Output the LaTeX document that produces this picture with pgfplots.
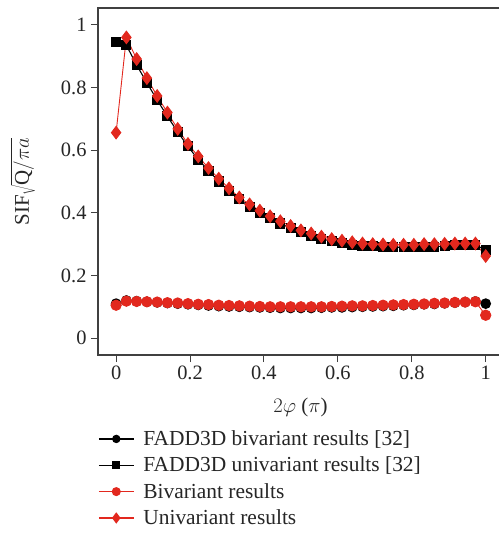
\documentclass[border=0pt]{standalone}
\usepackage{pgfplots}
\pgfplotsset{compat=1.18}
\usepackage{pgfplotstable}
\usepackage{fontspec}
\setmainfont{Liberation Serif}
\definecolor{myred}{RGB}{226,40,30}
\definecolor{axgray}{RGB}{64,64,64}

\pgfplotstableread{
x fb fu rb ru
0.00000 0.110 0.945 0.105 0.656
0.02778 0.120 0.935 0.118 0.960
0.05556 0.118 0.872 0.117 0.891
0.08333 0.116 0.815 0.116 0.830
0.11111 0.114 0.760 0.115 0.773
0.13889 0.112 0.708 0.113 0.720
0.16667 0.110 0.658 0.112 0.668
0.19444 0.108 0.612 0.110 0.620
0.22222 0.106 0.570 0.108 0.580
0.25000 0.104 0.535 0.107 0.543
0.27778 0.102 0.500 0.105 0.509
0.30556 0.101 0.470 0.104 0.478
0.33333 0.100 0.443 0.103 0.449
0.36111 0.099 0.420 0.102 0.427
0.38889 0.098 0.400 0.101 0.407
0.41667 0.097 0.382 0.100 0.389
0.44444 0.096 0.366 0.100 0.373
0.47222 0.096 0.351 0.100 0.358
0.50000 0.096 0.338 0.100 0.344
0.52778 0.096 0.327 0.100 0.334
0.55556 0.097 0.317 0.100 0.324
0.58333 0.098 0.309 0.101 0.316
0.61111 0.098 0.303 0.102 0.311
0.63889 0.099 0.298 0.103 0.306
0.66667 0.100 0.295 0.103 0.302
0.69444 0.101 0.293 0.104 0.300
0.72222 0.102 0.291 0.105 0.299
0.75000 0.103 0.290 0.106 0.298
0.77778 0.105 0.290 0.107 0.298
0.80556 0.106 0.290 0.108 0.298
0.83333 0.108 0.291 0.109 0.300
0.86111 0.109 0.292 0.111 0.300
0.88889 0.111 0.294 0.112 0.301
0.91667 0.113 0.296 0.114 0.302
0.94444 0.115 0.297 0.115 0.302
0.97222 0.117 0.298 0.116 0.302
1.00000 0.110 0.281 0.073 0.262
}\datatable

\begin{document}
\begin{tikzpicture}
\begin{axis}[
  scale only axis, width=401bp, height=347bp,
  xmin=-0.049, xmax=1.036, ymin=-0.054, ymax=1.054,
  axis line style={draw=none},
  tick pos=left, tick align=outside, major tick length=7bp,
  tick style={axgray, line width=0.9bp},
  xtick={0,0.2,0.4,0.6,0.8,1}, ytick={0,0.2,0.4,0.6,0.8,1},
  /pgf/number format/assume math mode=true,
  ticklabel style={font=\fontsize{20.5}{24}\selectfont, text=black!85},
  yticklabel style={xshift=-1bp},
  xlabel={$2\varphi$ ($\pi$)}, ylabel={SIF$\sqrt{\mathrm{Q}/\pi a}$},
  label style={font=\fontsize{21}{24}\selectfont, text=black!85},
  ylabel style={at={(axis description cs:-0.187,0.5)}, anchor=center},
  xlabel style={at={(axis description cs:0.505,-0.15)}, anchor=center},
  legend style={draw=none, at={(0,-0.212)}, anchor=north west,
    font=\fontsize{21.5}{24}\selectfont, text=black!85, row sep=6bp,
    inner xsep=0pt, inner ysep=0pt,
    nodes={inner xsep=9bp}},
  legend cell align=left,
  legend image code/.code={%
    \draw[mark repeat=2, mark phase=2, #1, line width=1.2bp, mark options={scale=0.75}]
      plot coordinates {(0bp,0bp) (17.5bp,0bp) (35bp,0bp)};},
  clip=false,
]
\addplot[black, line width=1.1bp, mark=*, mark size=4.8pt] table[x=x, y=fb] {\datatable};
\addlegendentry{FADD3D bivariant results [32]}
\addplot[black, line width=1.1bp, mark=square*, mark size=4.5pt] table[x=x, y=fu] {\datatable};
\addlegendentry{FADD3D univariant results [32]}
\addplot[myred, line width=0.9bp, mark=*, mark size=5.2pt] table[x=x, y=rb] {\datatable};
\addlegendentry{Bivariant results}
\addplot[myred, line width=0.9bp, mark=diamond*, mark size=6.3pt] table[x=x, y=ru] {\datatable};
\addlegendentry{Univariant results}
\draw[axgray, line width=1.1bp] (rel axis cs:1,1) -- (rel axis cs:0,1) -- (rel axis cs:0,0) -- (rel axis cs:1,0);
\end{axis}
\path ([xshift=-98bp,yshift=-178bp]current axis.south west) ([yshift=8bp]current axis.north east);
\end{tikzpicture}
\end{document}
